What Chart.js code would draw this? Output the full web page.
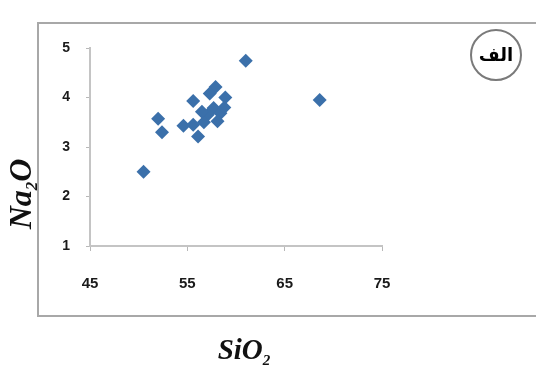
<!DOCTYPE html>
<html>
<head>
<meta charset="utf-8">
<script src="https://cdn.jsdelivr.net/npm/chart.js@4"></script>
<style>
  html, body { margin:0; padding:0; background:#fff; }
  #wrap { width:536px; height:370px; position:relative; }
</style>
</head>
<body>
<div id="wrap"><canvas id="scatter" width="536" height="370"></canvas></div>
<script>
// SiO2 vs Na2O values
const sio2 = [50.5, 52.0, 52.4, 54.6, 56.1, 55.6, 57.9, 57.3, 58.9, 61.0, 68.6, 57.7, 58.4, 57.1, 58.8, 56.7, 55.6, 58.1, 56.5]
const na2o = [2.50, 3.57, 3.30, 3.43, 3.21, 3.93, 4.21, 4.08, 4.00, 4.74, 3.95, 3.79, 3.68, 3.65, 3.80, 3.50, 3.45, 3.52, 3.71]
const xTicks = [45, 55, 65, 75]
const yTicks = [1, 2, 3, 4, 5]
const panelLabel = 'الف'

// draws a formula like Na2O with the digit as subscript, centred on 0,0
function formula(c, parts, big, small) {
  let total = 0
  const widths = parts.map(p => {
    c.font = 'italic bold ' + (p.sub ? small : big) + 'px "Liberation Serif"'
    const w = c.measureText(p.t).width
    total += w
    return w
  })
  let x = -total / 2
  parts.forEach((p, i) => {
    c.font = 'italic bold ' + (p.sub ? small : big) + 'px "Liberation Serif"'
    c.fillText(p.t, x, p.sub ? big * 0.3 : 0)
    x += widths[i]
  })
}

const decor = {
  id: 'decor',
  beforeDraw(chart) {
    const c = chart.ctx
    c.save()
    c.fillStyle = '#fff'
    c.fillRect(0, 0, chart.width, chart.height)
    c.strokeStyle = '#a8a8a8'
    c.lineWidth = 2
    c.strokeRect(38, 23, 540, 293)
    c.restore()
  },
  afterDraw(chart) {
    const c = chart.ctx
    c.save()
    c.fillStyle = '#111'
    c.textBaseline = 'middle'
    c.translate(23, 194)
    c.rotate(-Math.PI / 2)
    formula(c, [{ t:'Na' }, { t:'2', sub:true }, { t:'O' }], 32, 17)
    c.restore()

    c.save()
    c.fillStyle = '#111'
    c.textBaseline = 'middle'
    c.translate(244, 352)
    formula(c, [{ t:'SiO' }, { t:'2', sub:true }], 29, 15)
    c.restore()

    // circled panel label
    c.save()
    c.beginPath()
    c.arc(496, 55, 25, 0, Math.PI * 2)
    c.fillStyle = '#fff'
    c.fill()
    c.strokeStyle = '#7a7a7a'
    c.lineWidth = 2
    c.stroke()
    c.fillStyle = '#000'
    c.font = 'bold 18px "DejaVu Sans"'
    c.textAlign = 'center'
    c.textBaseline = 'middle'
    c.fillText(panelLabel, 496, 56)
    c.restore()
  }
}

new Chart(document.getElementById('scatter').getContext('2d'), {
  type: 'scatter',
  data: {
    datasets: [{
      data: sio2.map((x, i) => ({ x, y: na2o[i] })),
      pointStyle: 'rectRot',
      pointRadius: 7,
      backgroundColor: '#3b70aa',
      borderColor: '#3b70aa',
      borderWidth: 0
    }]
  },
  options: {
    responsive: false,
    animation: false,
    layout: { padding: { left: 0, top: 48, right: 154, bottom: 0 } },
    plugins: { legend: { display:false }, tooltip: { enabled:false } },
    scales: {
      x: {
        type: 'linear', min: 45, max: 75,
        afterFit: s => { s.height = 124 },
        afterBuildTicks: s => { s.ticks = xTicks.map(v => ({ value: v })) },
        grid: { drawOnChartArea:false, drawTicks:true, tickLength:5, color:'#b8b8b8' },
        border: { display:true, color:'#c4c4c4', width:2 },
        ticks: { color:'#1a1a1a', padding:24, font:{ family:'Liberation Sans', size:15, weight:'bold' }, maxRotation:0 }
      },
      y: {
        type: 'linear', min: 1, max: 5,
        afterFit: s => { s.width = 90 },
        afterBuildTicks: s => { s.ticks = yTicks.map(v => ({ value: v })) },
        grid: { drawOnChartArea:false, drawTicks:true, tickLength:4, color:'#b8b8b8' },
        border: { display:true, color:'#c4c4c4', width:2 },
        ticks: { color:'#1a1a1a', padding:16, font:{ family:'Liberation Sans', size:14, weight:'bold' } }
      }
    }
  },
  plugins: [decor]
})
</script>
</body>
</html>
